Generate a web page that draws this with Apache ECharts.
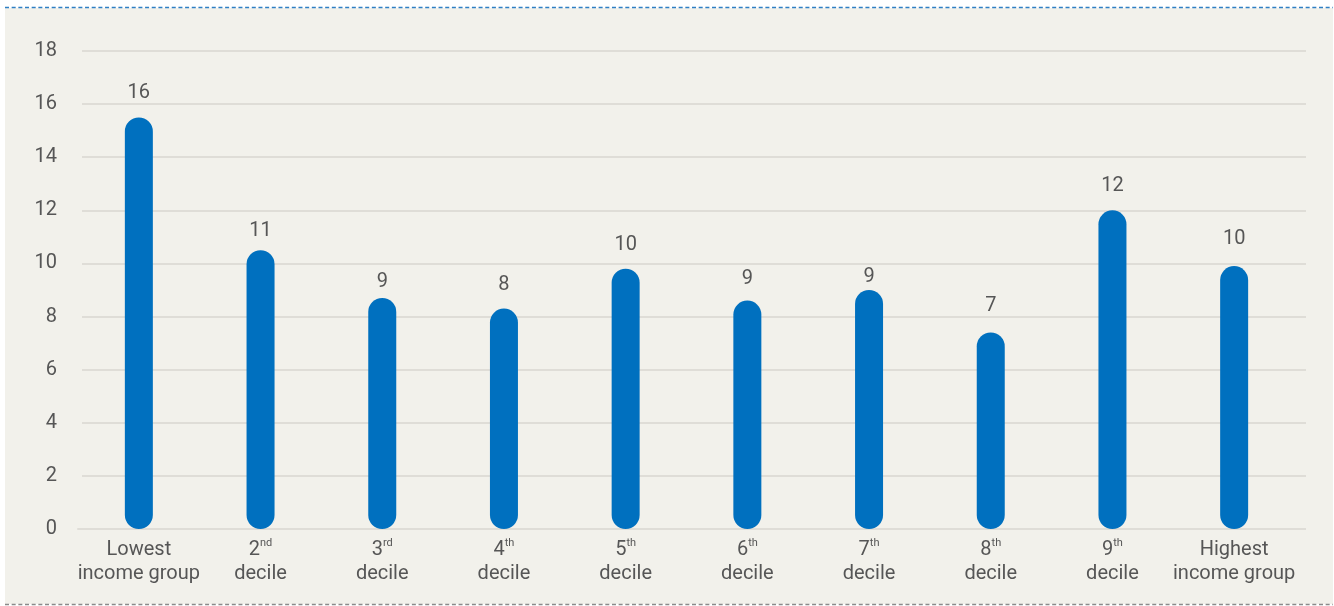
<!DOCTYPE html>
<html>
<head>
<meta charset="utf-8">
<script src="https://cdn.jsdelivr.net/npm/echarts@6/dist/echarts.min.js"></script>
<style>
  html, body { margin: 0; padding: 0; background: #ffffff; }
  #chart { width: 1334px; height: 606px; }
</style>
</head>
<body>
<div id="chart"></div>
<script>
// ---- Data ----
const categories = ['Lowest income group', '2nd decile', '3rd decile', '4th decile', '5th decile',
                    '6th decile', '7th decile', '8th decile', '9th decile', 'Highest income group'];
const values = [15.5, 10.5, 8.7, 8.3, 9.8, 8.6, 9.0, 7.4, 12.0, 9.9];
const valueLabels = [16, 11, 9, 8, 10, 9, 9, 7, 12, 10];
const yTicks = { min: 0, max: 18, interval: 2 };

// ---- Styles ----
const TEXT = '#565656';
const BAR = '#0070bf';
const GRIDLINE = '#dfddd7';
const FONT = 'Roboto';
// per-bar label gap (style only), matching the uneven label placement of the original
const labelGap = [13, 8, 5, 13, 13, 11, 2, 15, 13, 16];

function fmtCategory(name) {
  const m = name.match(/^(\d)(st|nd|rd|th) (.*)$/);
  if (m) return '{n|' + m[1] + '}{s|' + m[2] + '}\n{n|' + m[3] + '}';
  const i = name.indexOf(' ');
  return '{n|' + name.slice(0, i) + '}\n{n|' + name.slice(i + 1) + '}';
}

const chart = echarts.init(document.getElementById('chart'), null, { renderer: 'canvas' });
const gridTop = 51, gridHeight = 478;

chart.setOption({
  backgroundColor: 'transparent',
  animation: false,
  textStyle: { fontFamily: FONT },
  graphic: [
    { type: 'rect', z: -100, silent: true,
      shape: { x: 5, y: 8, width: 1328, height: 596 },
      style: { fill: '#f2f1eb' } },
    { type: 'line', z: 100, silent: true,
      shape: { x1: 5, y1: 7.5, x2: 1333, y2: 7.5 },
      style: { stroke: '#2f7fc4', lineWidth: 1.5, lineDash: [4, 2.67] } },
    { type: 'line', z: 100, silent: true,
      shape: { x1: 5, y1: 604.5, x2: 1333, y2: 604.5 },
      style: { stroke: '#8a8a8a', lineWidth: 1.5, lineDash: [4, 2.67] } }
  ],
  grid: [
    { left: 82, right: 28, top: gridTop, height: gridHeight, containLabel: false },
    { left: 78, right: 39, top: gridTop, height: gridHeight, containLabel: false }
  ],
  xAxis: [
    { type: 'category', gridIndex: 0, data: categories, show: false },
    { type: 'category', gridIndex: 1, data: categories,
      axisLine: { show: true, lineStyle: { color: GRIDLINE, width: 2 } },
      axisTick: { show: false },
      axisLabel: {
        margin: 9,
        interval: 0,
        formatter: fmtCategory,
        rich: {
          n: { fontSize: 20, lineHeight: 24, color: TEXT, fontFamily: FONT },
          s: { fontSize: 11, lineHeight: 21, verticalAlign: 'top', color: TEXT, fontFamily: FONT }
        }
      }
    }
  ],
  yAxis: [
    { type: 'value', gridIndex: 0, min: yTicks.min, max: yTicks.max, interval: yTicks.interval,
      axisLine: { show: false }, axisTick: { show: false },
      axisLabel: { margin: 25, fontSize: 20, color: TEXT, fontFamily: FONT },
      splitLine: { show: true, lineStyle: { color: GRIDLINE, width: 2 } } },
    { type: 'value', gridIndex: 1, min: yTicks.min, max: yTicks.max, interval: yTicks.interval,
      show: false, splitLine: { show: false } }
  ],
  series: [{
    type: 'bar',
    xAxisIndex: 1, yAxisIndex: 1,
    data: values.map((v, i) => ({ value: v, label: { distance: labelGap[i] } })),
    barWidth: 28,
    itemStyle: { color: BAR, borderRadius: 14 },
    label: {
      show: true, position: 'top', distance: 13,
      fontSize: 20, lineHeight: 22, color: TEXT, fontFamily: FONT,
      formatter: p => String(valueLabels[p.dataIndex])
    }
  }]
});
</script>
</body>
</html>
